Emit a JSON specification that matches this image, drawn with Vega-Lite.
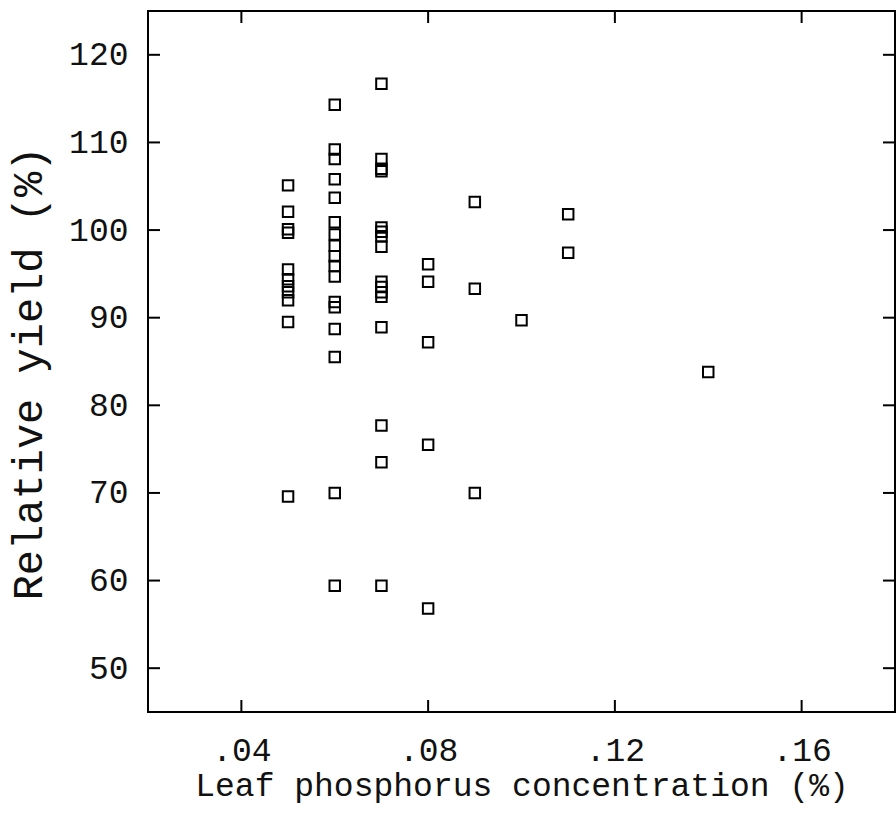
{
  "$schema": "https://vega.github.io/schema/vega-lite/v6.json",
  "width": 747,
  "height": 701,
  "autosize": "none",
  "padding": {"left": 148, "top": 11, "right": 1, "bottom": 107},
  "background": "white",
  "config": {
    "view": {"stroke": "black", "strokeWidth": 2},
    "font": "Liberation Mono"
  },
  "datasets": {
    "pts": [
      {"p": 0.05, "y": 105.1}, {"p": 0.05, "y": 102.1}, {"p": 0.05, "y": 100.1}, {"p": 0.05, "y": 99.7},
      {"p": 0.05, "y": 95.5}, {"p": 0.05, "y": 94.4}, {"p": 0.05, "y": 93.6}, {"p": 0.05, "y": 92.9},
      {"p": 0.05, "y": 92.0}, {"p": 0.05, "y": 89.5}, {"p": 0.05, "y": 69.6},
      {"p": 0.06, "y": 114.3}, {"p": 0.06, "y": 109.2}, {"p": 0.06, "y": 108.1}, {"p": 0.06, "y": 105.8},
      {"p": 0.06, "y": 103.7}, {"p": 0.06, "y": 100.9}, {"p": 0.06, "y": 99.5}, {"p": 0.06, "y": 98.2},
      {"p": 0.06, "y": 97.0}, {"p": 0.06, "y": 95.9}, {"p": 0.06, "y": 94.7}, {"p": 0.06, "y": 91.8},
      {"p": 0.06, "y": 91.2}, {"p": 0.06, "y": 88.7}, {"p": 0.06, "y": 85.5}, {"p": 0.06, "y": 70.0},
      {"p": 0.06, "y": 59.4},
      {"p": 0.07, "y": 116.7}, {"p": 0.07, "y": 108.1}, {"p": 0.07, "y": 107.0}, {"p": 0.07, "y": 106.7},
      {"p": 0.07, "y": 100.3}, {"p": 0.07, "y": 99.8}, {"p": 0.07, "y": 99.3}, {"p": 0.07, "y": 98.1},
      {"p": 0.07, "y": 94.1}, {"p": 0.07, "y": 93.5}, {"p": 0.07, "y": 92.9}, {"p": 0.07, "y": 92.4},
      {"p": 0.07, "y": 88.9}, {"p": 0.07, "y": 77.7}, {"p": 0.07, "y": 73.5}, {"p": 0.07, "y": 59.4},
      {"p": 0.08, "y": 96.1}, {"p": 0.08, "y": 94.1}, {"p": 0.08, "y": 87.2}, {"p": 0.08, "y": 75.5},
      {"p": 0.08, "y": 56.8},
      {"p": 0.09, "y": 103.2}, {"p": 0.09, "y": 93.3}, {"p": 0.09, "y": 70.0},
      {"p": 0.10, "y": 89.7},
      {"p": 0.11, "y": 101.8}, {"p": 0.11, "y": 97.4},
      {"p": 0.14, "y": 83.8}
    ],
    "xticks": [{"p": 0.04}, {"p": 0.08}, {"p": 0.12}, {"p": 0.16}],
    "yticks": [{"y": 50}, {"y": 60}, {"y": 70}, {"y": 80}, {"y": 90}, {"y": 100}, {"y": 110}, {"y": 120}]
  },
  "layer": [
    {
      "data": {"name": "pts"},
      "mark": {"type": "point", "shape": "square", "filled": false, "stroke": "black", "strokeWidth": 2, "size": 110, "opacity": 1},
      "encoding": {
        "x": {
          "field": "p", "type": "quantitative",
          "scale": {"domain": [0.02, 0.18], "nice": false, "zero": false},
          "axis": {
            "orient": "bottom",
            "ticks": false,
            "values": [0.04, 0.08, 0.12, 0.16],
            "labelExpr": "replace(format(datum.value, '.2f'), '0.', '.')",
            "grid": false,
            "domain": false,
            "labelFont": "Liberation Mono", "labelFontSize": 33, "labelColor": "#111",
            "labelPadding": 22, "labelBaseline": "top",
            "title": "Leaf phosphorus concentration (%)",
            "titleFont": "Liberation Mono", "titleFontSize": 33, "titleFontWeight": "normal", "titleColor": "#111",
            "titleY": 73, "titleBaseline": "middle"
          }
        },
        "y": {
          "field": "y", "type": "quantitative",
          "scale": {"domain": [45, 125], "nice": false, "zero": false},
          "axis": {
            "orient": "left",
            "ticks": false,
            "values": [50, 60, 70, 80, 90, 100, 110, 120],
            "grid": false,
            "domain": false,
            "labelFont": "Liberation Mono", "labelFontSize": 33, "labelColor": "#111",
            "labelPadding": 20,
            "title": "Relative yield (%)",
            "titleFont": "Liberation Mono", "titleFontSize": 42, "titleFontWeight": "normal", "titleColor": "#111",
            "titleX": -120, "titleY": 362, "titleAngle": 270, "titleBaseline": "middle", "titleAlign": "center"
          }
        }
      }
    },
    {
      "data": {"name": "xticks"},
      "mark": {"type": "point", "shape": "M0,0V-1", "size": 576, "filled": false, "stroke": "black", "strokeWidth": 2, "opacity": 1},
      "encoding": {
        "x": {"field": "p", "type": "quantitative"},
        "y": {"datum": 45, "type": "quantitative"}
      }
    },
    {
      "data": {"name": "xticks"},
      "mark": {"type": "point", "shape": "M0,0V1", "size": 576, "filled": false, "stroke": "black", "strokeWidth": 2, "opacity": 1},
      "encoding": {
        "x": {"field": "p", "type": "quantitative"},
        "y": {"datum": 125, "type": "quantitative"}
      }
    },
    {
      "data": {"name": "yticks"},
      "mark": {"type": "point", "shape": "M0,0H1", "size": 576, "filled": false, "stroke": "black", "strokeWidth": 2, "opacity": 1},
      "encoding": {
        "y": {"field": "y", "type": "quantitative"},
        "x": {"datum": 0.02, "type": "quantitative"}
      }
    },
    {
      "data": {"name": "yticks"},
      "mark": {"type": "point", "shape": "M0,0H-1", "size": 576, "filled": false, "stroke": "black", "strokeWidth": 2, "opacity": 1},
      "encoding": {
        "y": {"field": "y", "type": "quantitative"},
        "x": {"datum": 0.18, "type": "quantitative"}
      }
    }
  ]
}
